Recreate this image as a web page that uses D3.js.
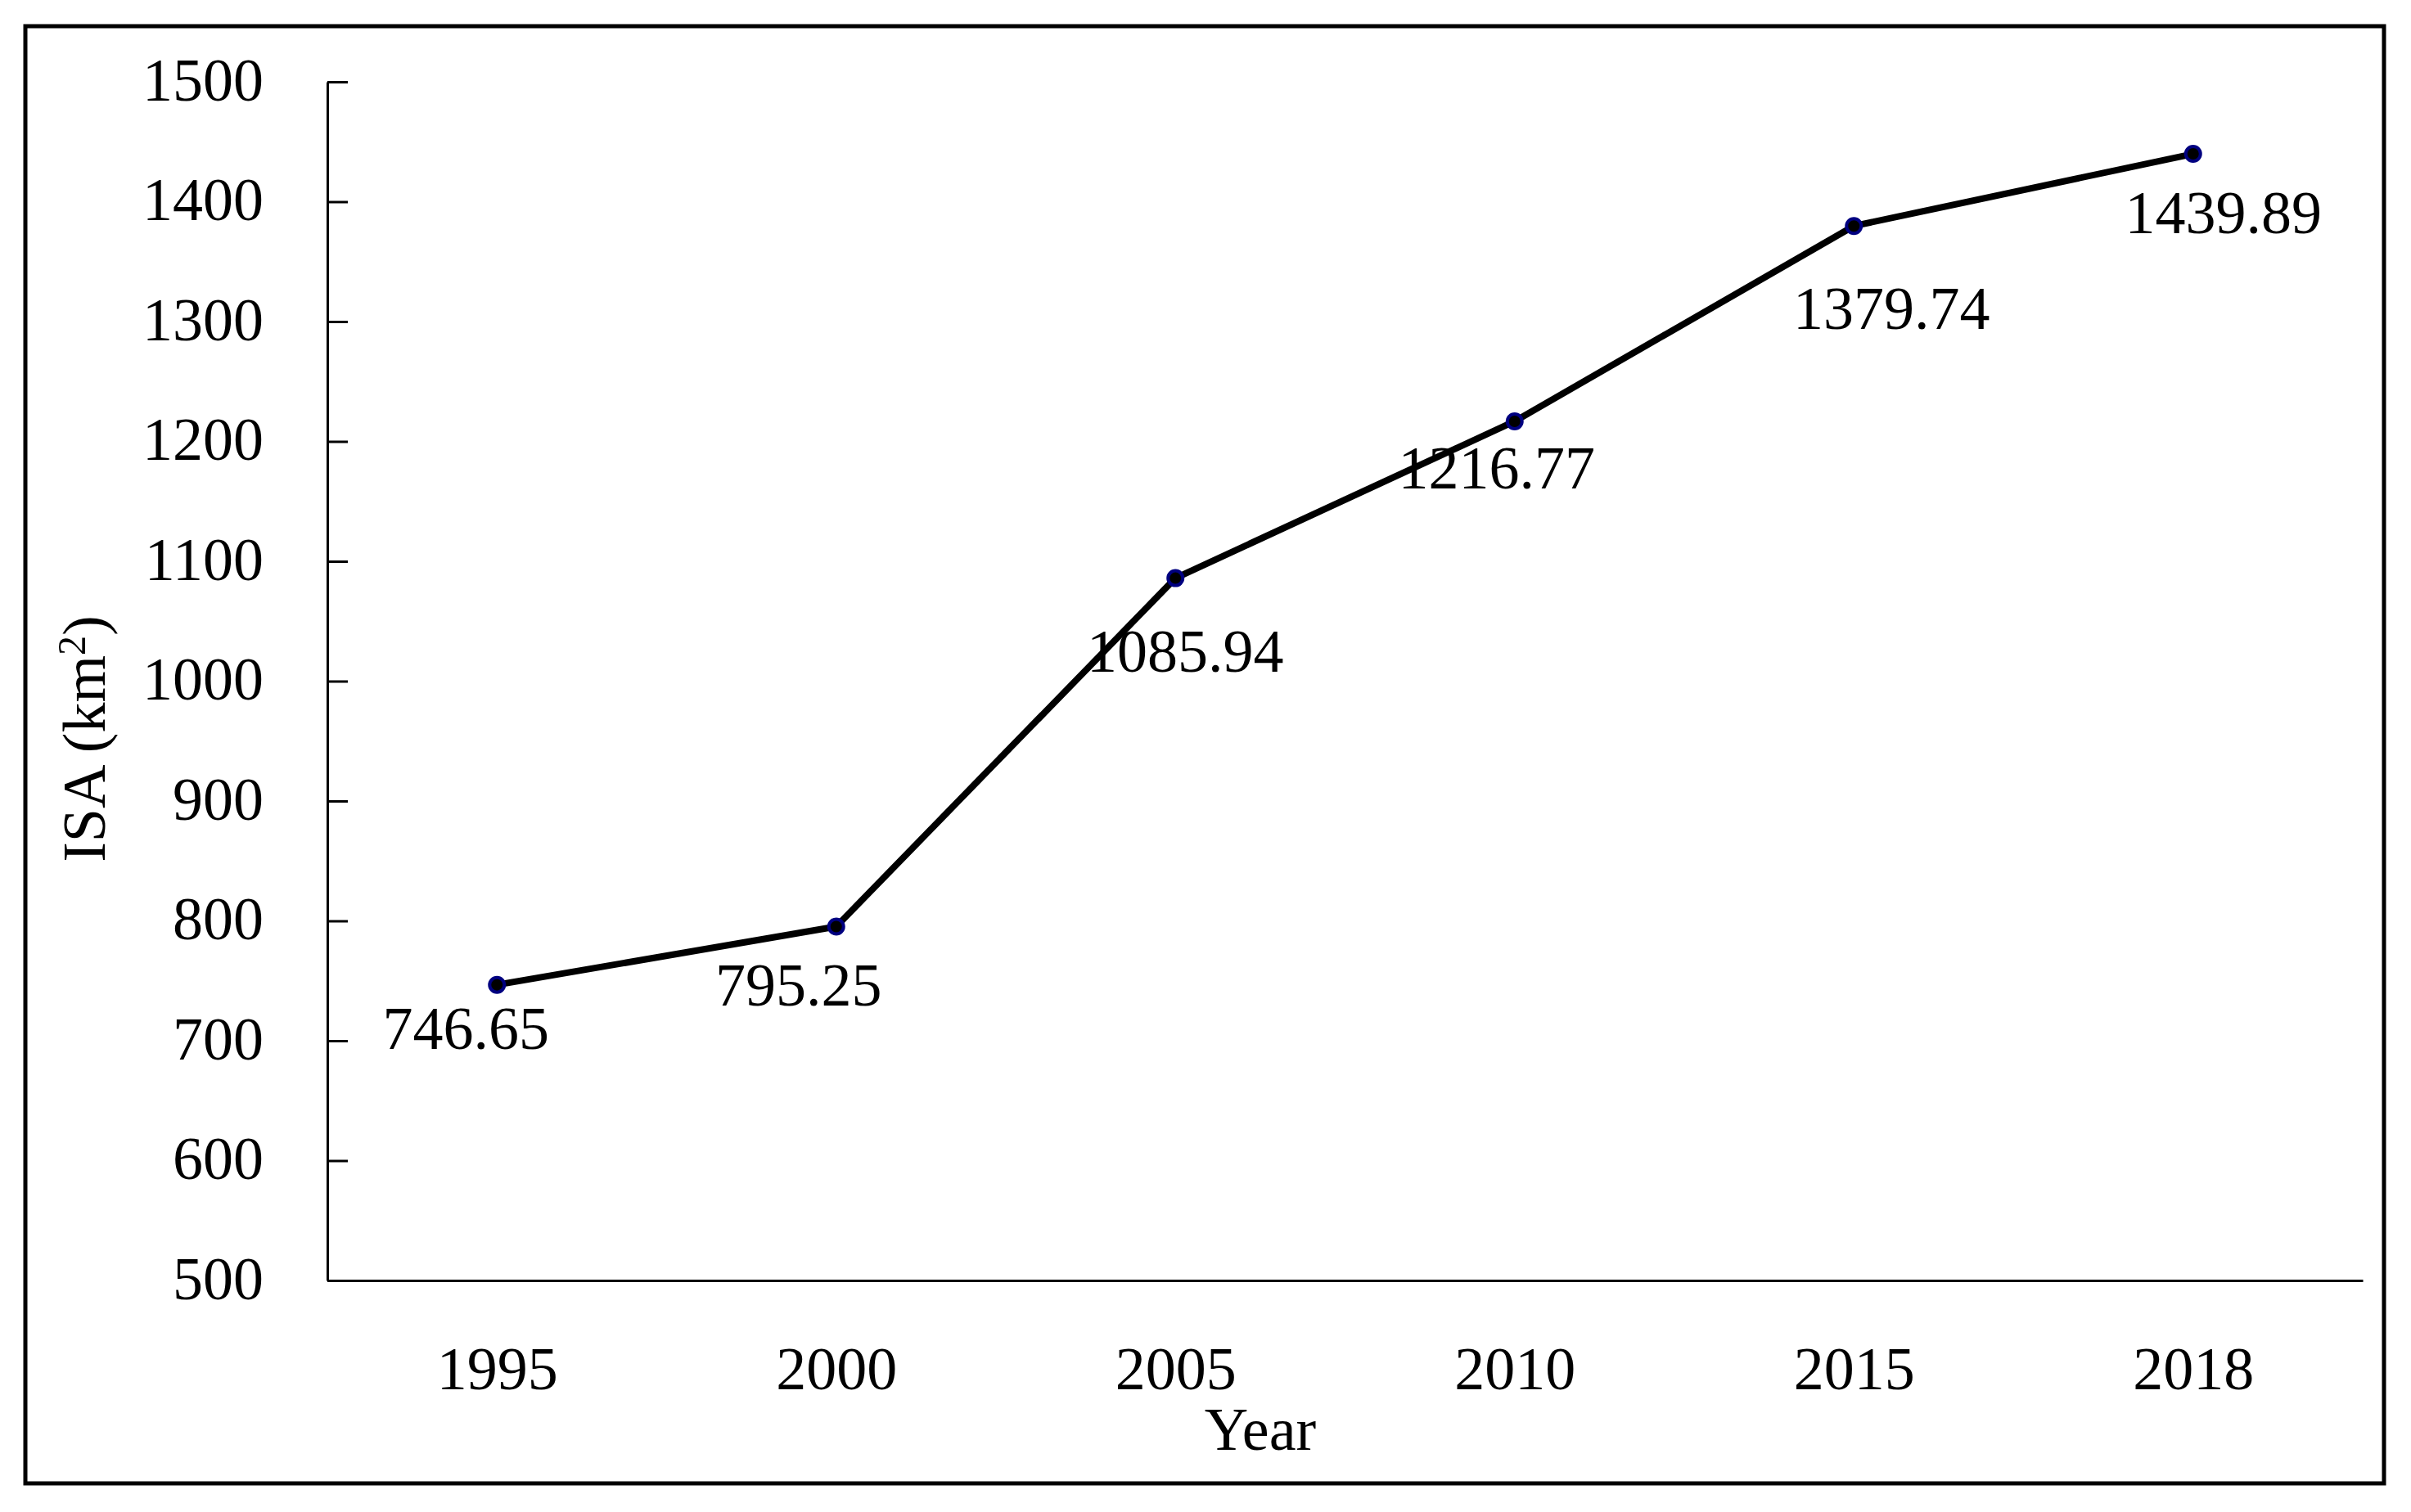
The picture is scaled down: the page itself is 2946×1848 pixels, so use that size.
<!DOCTYPE html>
<html>
<head>
<meta charset="utf-8">
<script src="https://cdn.jsdelivr.net/npm/d3@7"></script>
<style>
  html, body { margin: 0; padding: 0; background: #fff; }
  svg { display: block; }
  text { font-family: "Liberation Serif", "DejaVu Serif", serif; fill: #000; }
</style>
</head>
<body>
<script>
// ---- data ----
const years = ["1995", "2000", "2005", "2010", "2015", "2018"];
const isaValues = [746.65, 795.25, 1085.94, 1216.77, 1379.74, 1439.89];
const yTicks = [500, 600, 700, 800, 900, 1000, 1100, 1200, 1300, 1400, 1500];
// label placement offsets (px) relative to each point, as in the original figure
const labelDx = [-38, -46, 12, -22, 46, 37];
const labelDy = [78, 97, 114, 82, 126, 97];

(function () {
const W = 2946, H = 1848;
const FS = 74;

const svg = d3.select("body").append("svg")
  .attr("width", W).attr("height", H);

svg.append("rect").attr("width", W).attr("height", H).attr("fill", "#fff");

// outer frame
svg.append("rect")
  .attr("x", 31).attr("y", 32)
  .attr("width", 2913 - 31).attr("height", 1813 - 32)
  .attr("fill", "none").attr("stroke", "#000").attr("stroke-width", 5);

const pLeft = 400, pRight = 2887, pTop = 100, pBottom = 1565;

const x = d3.scalePoint().domain(years).range([pLeft, pRight]).padding(0.5);
const y = d3.scaleLinear().domain([500, 1500]).range([pBottom, pTop]);

// y axis
const yAxis = svg.append("g")
  .attr("transform", `translate(${pLeft},0)`)
  .call(d3.axisLeft(y).tickValues(yTicks).tickFormat(d3.format("d"))
    .tickSizeInner(-25).tickSizeOuter(0).tickPadding(78));
yAxis.select(".domain").attr("stroke", "#000").attr("stroke-width", 3);
yAxis.selectAll(".tick line").attr("stroke", "#000").attr("stroke-width", 3);
yAxis.selectAll(".tick text")
  .attr("font-size", FS).attr("font-family", "Liberation Serif").attr("dy", "0.30em");

// x axis
const xAxis = svg.append("g")
  .attr("transform", `translate(0,${pBottom})`)
  .call(d3.axisBottom(x).tickSizeInner(0).tickSizeOuter(0).tickPadding(80));
xAxis.select(".domain").attr("stroke", "#000").attr("stroke-width", 3);
xAxis.selectAll(".tick line").remove();
xAxis.selectAll(".tick text")
  .attr("font-size", FS).attr("font-family", "Liberation Serif");

// axis titles
svg.append("text")
  .attr("x", 1540).attr("y", 1772)
  .attr("text-anchor", "middle")
  .attr("font-size", FS)
  .text("Year");

const yt = svg.append("text")
  .attr("transform", "translate(128,903) rotate(-90)")
  .attr("text-anchor", "middle")
  .attr("font-size", FS);
yt.append("tspan").text("ISA (km");
yt.append("tspan").attr("font-size", FS * 0.65).attr("dy", -FS * 0.33).text("2");
yt.append("tspan").attr("dy", FS * 0.33).text(")");

// line
const pts = years.map((yr, i) => ({ yr, v: isaValues[i], i }));
const line = d3.line().x(d => x(d.yr)).y(d => y(d.v));

svg.append("path")
  .datum(pts)
  .attr("d", line)
  .attr("fill", "none")
  .attr("stroke", "#000")
  .attr("stroke-width", 8)
  .attr("stroke-linejoin", "round");

// markers
svg.selectAll("circle.pt")
  .data(pts).enter().append("circle")
  .attr("class", "pt")
  .attr("cx", d => x(d.yr)).attr("cy", d => y(d.v))
  .attr("r", 9)
  .attr("fill", "#000")
  .attr("stroke", "#000080")
  .attr("stroke-width", 4);

// data labels
svg.selectAll("text.lbl")
  .data(pts).enter().append("text")
  .attr("class", "lbl")
  .attr("x", d => x(d.yr) + labelDx[d.i])
  .attr("y", d => y(d.v) + labelDy[d.i])
  .attr("text-anchor", "middle")
  .attr("font-size", FS)
  .text(d => d.v.toFixed(2));
})();
</script>
</body>
</html>
